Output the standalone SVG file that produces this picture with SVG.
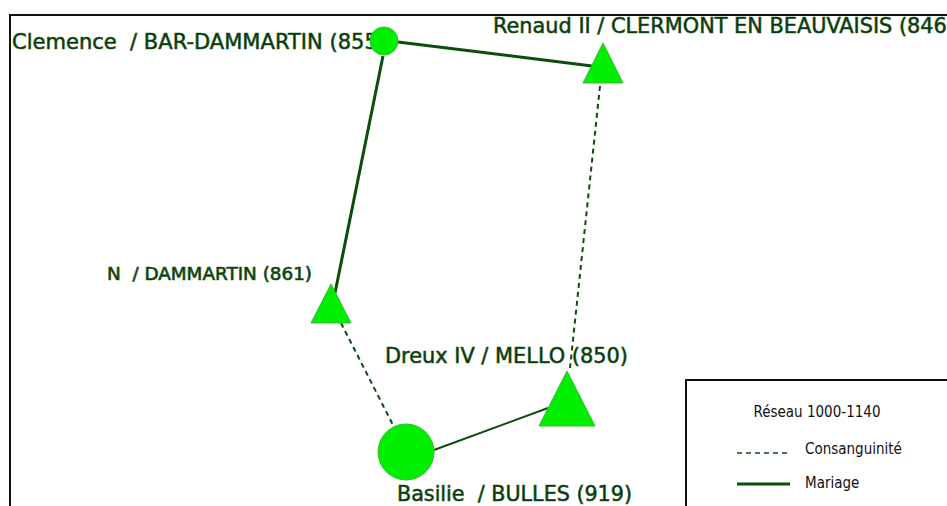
<svg xmlns="http://www.w3.org/2000/svg" width="947" height="506" viewBox="0 0 947 506">
<style>
.lbl{font-family:"DejaVu Sans",Verdana,sans-serif;font-size:20.5px;fill:#073307;stroke:#1e5a1e;stroke-width:0.6;white-space:pre}
.sm{font-size:17px;stroke-width:0.7}
.node{fill:#00ee00;stroke:#33bb33;stroke-width:1}
.mar{stroke:#0b4d0b;stroke-width:3;fill:none}
.mar2{stroke:#0b4d0b;stroke-width:2;fill:none}
.con{stroke:#0b4d0b;stroke-width:2;stroke-dasharray:5,4;fill:none}
.leg{font-family:"DejaVu Sans Condensed","DejaVu Sans",sans-serif;font-size:15px;fill:#111}
</style>
<rect width="947" height="506" fill="#fff"/>
<path d="M10,506 V15 H947" fill="none" stroke="#111" stroke-width="2"/>
<g id="connectors">
<line class="mar" x1="398" y1="42" x2="592" y2="66"/>
<line class="mar" x1="383" y1="56" x2="335" y2="293"/>
<line class="con" x1="600" y1="86" x2="570" y2="368"/>
<line class="con" x1="341" y1="323" x2="394" y2="427"/>
<line class="mar2" x1="434" y1="450" x2="548" y2="408"/>
</g>
<g id="clemence">
<text class="lbl" x="12" y="49" xml:space="preserve" textLength="374" lengthAdjust="spacingAndGlyphs">Clemence  / BAR-DAMMARTIN (855)</text>
<circle class="node" cx="384" cy="41" r="14"/>
</g>
<g id="renaud">
<text class="lbl" x="493" y="33" xml:space="preserve" textLength="462" lengthAdjust="spacingAndGlyphs">Renaud II / CLERMONT EN BEAUVAISIS (846)</text>
<polygon class="node" points="603,43 623,83 583,83"/>
</g>
<g id="n-dammartin">
<text class="lbl sm" x="107" y="280" xml:space="preserve" textLength="205" lengthAdjust="spacingAndGlyphs">N  / DAMMARTIN (861)</text>
<polygon class="node" points="331,284 351,323 311,323"/>
</g>
<g id="dreux">
<text class="lbl" x="385" y="363" xml:space="preserve" textLength="243" lengthAdjust="spacingAndGlyphs">Dreux IV / MELLO (850)</text>
<polygon class="node" points="567,371 595,426 539,426"/>
</g>
<g id="basilie">
<circle class="node" cx="406" cy="452" r="28"/>
<text class="lbl" x="397" y="501" xml:space="preserve" textLength="235" lengthAdjust="spacingAndGlyphs">Basilie  / BULLES (919)</text>
</g>
<g id="legend">
<rect x="686" y="380" width="270" height="140" fill="#fff" stroke="#111" stroke-width="2"/>
<text class="leg" x="817" y="417" text-anchor="middle">Réseau 1000-1140</text>
<line x1="737" y1="453" x2="790" y2="453" stroke="#0b4d0b" stroke-width="1.5" stroke-dasharray="5,4"/>
<text class="leg" x="805" y="454">Consanguinité</text>
<line x1="737" y1="484" x2="790" y2="484" stroke="#0b4d0b" stroke-width="3"/>
<text class="leg" x="805" y="488">Mariage</text>
</g>
</svg>
